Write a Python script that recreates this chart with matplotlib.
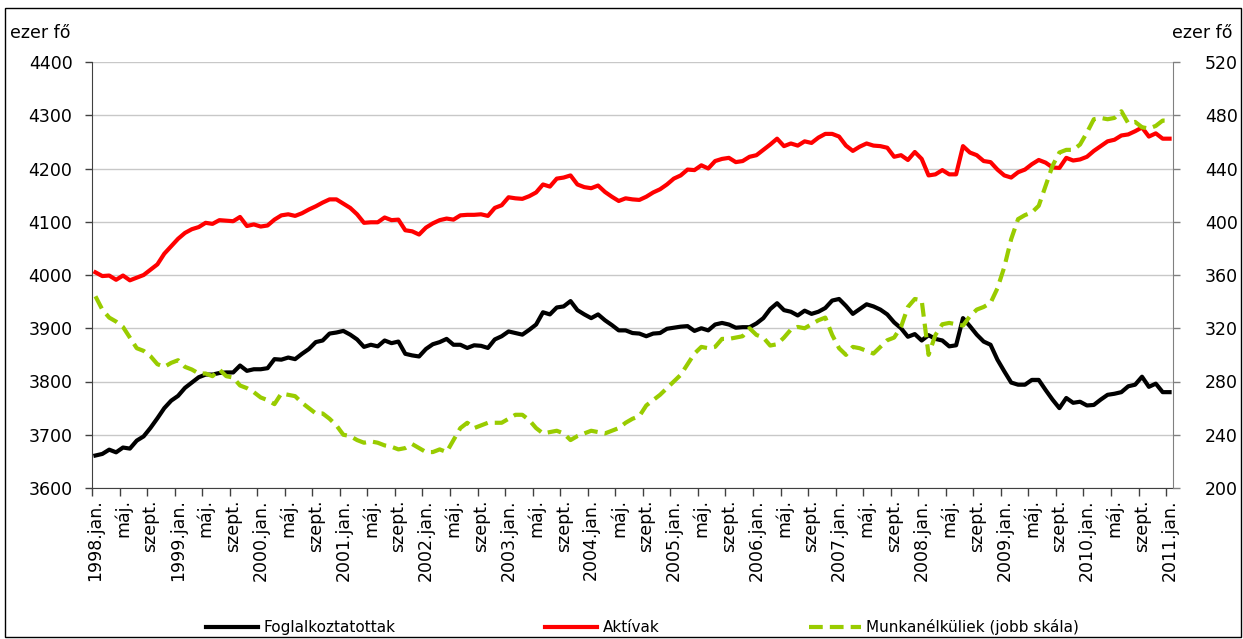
import matplotlib
matplotlib.use("Agg")
import matplotlib.pyplot as plt
from matplotlib.patches import Rectangle
import numpy as np

plt.rcParams['font.family'] = ['DejaVu Sans']

# Monthly series, 1998 January .. 2011 January (thousand persons)
employed = [
    3661, 3664, 3672, 3667, 3676, 3674, 3689, 3697, 3713, 3731, 3750, 3764,
    3773, 3788, 3798, 3808, 3813, 3813, 3816, 3817, 3817, 3830, 3820, 3823,
    3823, 3825, 3842, 3841, 3845, 3842, 3852, 3861, 3874, 3877, 3890, 3892,
    3895, 3888, 3879, 3865, 3869, 3866, 3877, 3872, 3875, 3852, 3849, 3847,
    3861, 3870, 3874, 3880, 3869, 3869, 3863, 3868, 3867, 3863, 3879, 3885,
    3894, 3891, 3888, 3897, 3907, 3930, 3926, 3939, 3941, 3951, 3934, 3926,
    3919, 3926, 3915, 3906, 3896, 3896, 3891, 3890, 3885, 3890, 3891, 3899,
    3901, 3903, 3904, 3895, 3900, 3896, 3907, 3910, 3907, 3901, 3902, 3902,
    3909, 3919, 3936, 3947, 3934, 3931, 3924, 3933, 3927, 3931, 3938, 3952,
    3955, 3942, 3927, 3936, 3945, 3941, 3935, 3926, 3911, 3900, 3884, 3889,
    3877, 3887, 3880, 3877, 3866, 3868, 3919, 3904, 3888, 3875, 3869, 3841,
    3819, 3798, 3794, 3794, 3803, 3803, 3784, 3766, 3750, 3769, 3760, 3762,
    3755, 3756, 3766, 3775, 3777, 3780, 3791, 3794, 3809, 3790, 3796, 3780,
    3780,
]

active = [
    4005, 3998, 3999, 3991, 3999, 3990, 3995, 4000, 4010, 4020, 4040, 4054,
    4068, 4079, 4086, 4090, 4098, 4096, 4103, 4102, 4101, 4109, 4092, 4095,
    4091, 4093, 4104, 4112, 4114, 4111, 4116, 4123, 4129, 4136, 4142, 4142,
    4134, 4126, 4114, 4098, 4099, 4099, 4108, 4103, 4104, 4084, 4082, 4076,
    4089, 4097, 4103, 4106, 4104, 4112, 4113, 4113, 4114, 4111, 4126, 4131,
    4146, 4144, 4143, 4148, 4155, 4170, 4166, 4181, 4183, 4187, 4170, 4165,
    4163, 4168, 4156, 4147, 4139, 4144, 4142, 4141, 4147, 4155, 4161, 4170,
    4181, 4187, 4198, 4197, 4206, 4200, 4214, 4218, 4220, 4212, 4214, 4222,
    4225, 4235, 4245, 4256, 4242, 4247, 4243, 4251, 4248, 4258, 4265, 4265,
    4260, 4243, 4233, 4241, 4247, 4243, 4242, 4239, 4222, 4225, 4216, 4231,
    4218, 4187, 4189, 4197, 4189, 4189, 4242, 4230, 4225, 4214, 4212, 4198,
    4187, 4183, 4193, 4198, 4208, 4216, 4211, 4202, 4201, 4220, 4215, 4217,
    4222, 4233, 4242, 4251, 4254, 4262, 4264, 4270, 4277, 4260, 4266, 4256,
    4256,
]

unemployed = [
    344, 334, 328, 325, 321, 313, 305, 303, 299, 293, 291, 294,
    296, 291, 289, 286, 286, 284, 289, 284, 283, 277, 275, 272,
    268, 266, 263, 271, 270, 269, 264, 260, 256, 256, 252, 247,
    240, 239, 236, 234, 235, 234, 232, 231, 229, 230, 233, 230,
    227, 227, 229, 227, 236, 245, 249, 245, 247, 249, 249, 249,
    252, 255, 255, 251, 245, 241, 242, 243, 241, 236, 239, 241,
    243, 242, 241, 243, 245, 249, 252, 254, 262, 266, 270, 275,
    280, 285, 293, 301, 306, 305, 306, 312, 312, 313, 314, 320,
    315, 313, 307, 308, 313, 319, 321, 320, 323, 326, 328, 315,
    305, 300, 306, 305, 303, 301, 306, 311, 313, 321, 336, 342,
    341, 300, 315, 323, 324, 323, 322, 329, 334, 336, 339, 350,
    366, 387, 402, 405, 407, 412, 427, 442, 452, 454, 454, 458,
    467, 477, 478, 477, 478, 483, 474, 475, 471, 470, 472, 476,
    476,
]

years = list(range(1998, 2012))
month_names = ["jan.", "máj.", "szept."]

series_names = ["Foglalkoztatottak", "Aktívak", "Munkanélküliek (jobb skála)"]
unit_label = "ezer fő"

left_ticks = [3600, 3700, 3800, 3900, 4000, 4100, 4200, 4300, 4400]
right_ticks = [200, 240, 280, 320, 360, 400, 440, 480, 520]

# Category labels every four months
n = len(employed)
label_pos = list(range(0, n, 4))
labels = []
for p in label_pos:
    y = years[p // 12]
    m = p % 12
    if m == 0:
        labels.append(f"{y}.{month_names[0]}")
    elif m == 4:
        labels.append(month_names[1])
    else:
        labels.append(month_names[2])

fig = plt.figure(figsize=(12.43, 6.39), dpi=100)
ax = fig.add_axes([92 / 1243, 1 - 488 / 639, (1173 - 92) / 1243, (488 - 62) / 639])
ax2 = ax.twinx()

x = np.arange(n)
ax.plot(x, employed, color="black", lw=3.0, solid_joinstyle="round", zorder=3,
        label=series_names[0])
ax.plot(x, active, color="#ff0000", lw=3.0, solid_joinstyle="round", zorder=3,
        label=series_names[1])
ax2.plot(x, unemployed, color="#99cc00", lw=3.0, ls=(0, (3.3, 1.7)), zorder=3,
         label=series_names[2])

ax.set_xlim(-0.5, n - 0.5)
ax.set_ylim(left_ticks[0], left_ticks[-1])
ax2.set_ylim(right_ticks[0], right_ticks[-1])
ax.set_yticks(left_ticks)
ax2.set_yticks(right_ticks)

# Category boundaries carry the tick marks, labels sit on the month itself
ax.set_xticks([p - 0.5 for p in label_pos], minor=True)
ax.set_xticks(label_pos)
ax.set_xticklabels(labels, rotation=90, fontsize=12.5, va="top", ha="center")
ax.tick_params(axis="x", which="major", length=0, pad=8)
ax.tick_params(axis="x", which="minor", length=6, width=1, color="#404040",
               direction="out")
ax.tick_params(axis="y", length=5, width=1, color="#404040", labelsize=12.5, pad=9)
ax2.tick_params(axis="y", length=5, width=1, color="#808080", labelsize=12.5, pad=18)

ax.grid(axis="y", color="#c8c8c8", lw=1.0, zorder=0)
ax.set_axisbelow(True)

for a in (ax, ax2):
    a.spines["top"].set_visible(False)
ax.spines["left"].set_color("#404040")
ax.spines["bottom"].set_color("#404040")
ax.spines["right"].set_visible(False)
ax2.spines["left"].set_visible(False)
ax2.spines["bottom"].set_visible(False)
ax2.spines["right"].set_color("#808080")

fig.text(10 / 1243, 1 - 33 / 639, unit_label, fontsize=12.5, ha="left", va="center")
fig.text(1233 / 1243, 1 - 33 / 639, unit_label, fontsize=12.5, ha="right", va="center")

h1, l1 = ax.get_legend_handles_labels()
h2, l2 = ax2.get_legend_handles_labels()
fig.legend(h1 + h2, l1 + l2, loc="center", bbox_to_anchor=(0.517, 0.019),
           ncol=3, frameon=False, fontsize=11, handlelength=3.4,
           handletextpad=0.35, columnspacing=9.8)

fig.patches.append(Rectangle((5 / 1243, 2 / 639), 1236 / 1243, 629 / 639,
                             transform=fig.transFigure, fill=False,
                             edgecolor="black", lw=1.0))

fig.savefig("out.png", dpi=100)
